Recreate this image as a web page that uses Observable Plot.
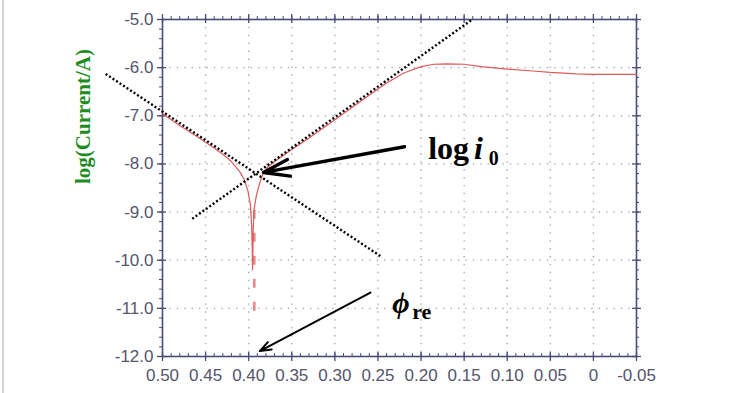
<!DOCTYPE html>
<html>
<head>
<meta charset="utf-8">
<script src="https://cdn.jsdelivr.net/npm/d3@7"></script>
<script src="https://cdn.jsdelivr.net/npm/@observablehq/plot@0.6"></script>
<style>
  html, body { margin: 0; padding: 0; background: #fff; }
  #wrap { position: relative; width: 755px; height: 393px; overflow: hidden; }
  #edge { position: absolute; left: 2px; top: 0; width: 2px; height: 393px; background: #d4d4d4; }
</style>
</head>
<body>
<div id="wrap"><div id="edge"></div></div>
<script>
// ---- data ----
const potential = [0.50, 0.48, 0.46, 0.44, 0.43, 0.42, 0.41, 0.405, 0.401, 0.398, 0.3965, 0.3958, 0.3955,
  0.3948, 0.3938, 0.391, 0.387, 0.383, 0.378, 0.37, 0.35, 0.33, 0.30, 0.27, 0.24, 0.22, 0.20, 0.185,
  0.17, 0.15, 0.13, 0.10, 0.07, 0.05, 0.02, 0.0, -0.05];
const logCurrent = [-6.96, -7.20, -7.43, -7.67, -7.80, -7.95, -8.17, -8.33, -8.55, -8.85, -9.3, -9.8, -10.2,
  -9.4, -8.95, -8.65, -8.38, -8.18, -8.07, -7.95, -7.70, -7.46, -7.08, -6.70, -6.32, -6.11, -5.98, -5.93,
  -5.92, -5.93, -5.98, -6.03, -6.07, -6.10, -6.13, -6.14, -6.14];
const tailPotential = [0.3935, 0.3935];
const tailLog = [-8.95, -11.15];

const tafelCathodicX = [0.566, 0.245];
const tafelCathodicY = [-6.13, -9.94];
const tafelAnodicX = [0.4655, 0.1406];
const tafelAnodicY = [-9.14, -5.0];

const arrowI0 = {x1: 0.2192, y1: -7.643, x2: 0.3828, y2: -8.177};
const arrowPhi = {x1: 0.2587, y1: -10.674, x2: 0.3871, y2: -11.887};

const xTicks = [0.50, 0.45, 0.40, 0.35, 0.30, 0.25, 0.20, 0.15, 0.10, 0.05, 0, -0.05];
const xTickLabels = ["0.50", "0.45", "0.40", "0.35", "0.30", "0.25", "0.20", "0.15", "0.10", "0.05", "0", "-0.05"];
const yTicks = [-5, -6, -7, -8, -9, -10, -11, -12];
const yTickLabels = ["-5.0", "-6.0", "-7.0", "-8.0", "-9.0", "-10.0", "-11.0", "-12.0"];
const xGrid = [0.45, 0.40, 0.35, 0.30, 0.25, 0.20, 0.15, 0.10, 0.05, 0];
const yGrid = [-6, -7, -8, -9, -10, -11];
const xMinor = d3.range(0, 56).map(i => +(0.5 - i * 0.01).toFixed(2));
const yMinor = d3.range(0, 36).map(i => +(-5 - i * 0.2).toFixed(1));

const yLabel = "log(Current/A)";
const labelLog = {t: "log", x: 0.1917, y: -7.892};
const labelI = {t: "i", x: 0.1385, y: -7.892};
const labelSub0 = {t: "0", x: 0.1215, y: -8.03};
const labelPhi = {t: "ϕ", x: 0.2335, y: -11.10};
const labelRe = {t: "re", x: 0.2103, y: -11.228};

// ---- chart ----
const W = 755, H = 393, mL = 162, mR = 119, mT = 19, mB = 37;
const pW = W - mL - mR, pH = H - mT - mB;
const axisColor = "#4a4a78";
const tickText = "#55556e";

const pts = potential.map((x, i) => ({x, y: logCurrent[i]}));
const tail = tailPotential.map((x, i) => ({x, y: tailLog[i]}));
const cath = tafelCathodicX.map((x, i) => ({x, y: tafelCathodicY[i]}));
const anod = tafelAnodicX.map((x, i) => ({x, y: tafelAnodicY[i]}));
const xFmt = new Map(xTicks.map((d, i) => [d, xTickLabels[i]]));
const yFmt = new Map(yTicks.map((d, i) => [d, yTickLabels[i]]));

const serif = "'Liberation Serif', 'Times New Roman', serif";
const narrow = "'Liberation Sans Narrow', 'Arial Narrow', 'Liberation Sans', Arial, sans-serif";

const chart = Plot.plot({
  width: W, height: H,
  marginLeft: mL, marginRight: mR, marginTop: mT, marginBottom: mB,
  x: {domain: [0.5, -0.05]},
  y: {domain: [-12, -5]},
  style: {background: "transparent", fontFamily: narrow},
  marks: [
    Plot.gridX(xGrid, {stroke: "#9a9aa0", strokeOpacity: 0.9, strokeWidth: 1.3, strokeDasharray: "1.4,6.5"}),
    Plot.gridY(yGrid, {stroke: "#9a9aa0", strokeOpacity: 0.9, strokeWidth: 1.3, strokeDasharray: "1.4,6"}),
    // minor ticks
    Plot.tickX(xMinor, {x: d => d, insetTop: pH - 3, stroke: axisColor}),
    Plot.tickX(xMinor, {x: d => d, insetTop: -3, insetBottom: pH, stroke: axisColor}),
    Plot.tickY(yMinor, {y: d => d, insetLeft: -3, insetRight: pW, stroke: axisColor}),
    Plot.tickY(yMinor, {y: d => d, insetLeft: pW, insetRight: -3, stroke: axisColor}),
    // major ticks
    Plot.tickX(xTicks, {x: d => d, insetTop: pH - 4, insetBottom: -5, stroke: axisColor, strokeWidth: 1.3}),
    Plot.tickX(xTicks, {x: d => d, insetTop: -5, insetBottom: pH - 4, stroke: axisColor, strokeWidth: 1.3}),
    Plot.tickY(yTicks, {y: d => d, insetLeft: -5, insetRight: pW - 4, stroke: axisColor, strokeWidth: 1.3}),
    Plot.tickY(yTicks, {y: d => d, insetLeft: pW - 4, insetRight: -5, stroke: axisColor, strokeWidth: 1.3}),
    Plot.frame({stroke: axisColor, strokeWidth: 1.6}),
    Plot.axisX(xTicks, {tickSize: 0, tickPadding: 12, tickFormat: d => xFmt.get(d), fontSize: 17, fill: tickText, label: null}),
    Plot.axisY(yTicks, {tickSize: 0, tickPadding: 9, tickFormat: d => yFmt.get(d), fontSize: 17, fill: tickText, label: null}),
    // curve
    Plot.line(tail, {x: "x", y: "y", stroke: "#e58a8a", strokeWidth: 2.6, strokeDasharray: "9,14", strokeLinecap: "butt"}),
    Plot.line(pts, {x: "x", y: "y", stroke: "#dd5a5a", strokeWidth: 1.2}),
    // Tafel lines
    Plot.line(cath, {x: "x", y: "y", stroke: "#000", strokeWidth: 2.4, strokeDasharray: "2,2.2", strokeLinecap: "butt"}),
    Plot.line(anod, {x: "x", y: "y", stroke: "#000", strokeWidth: 2.4, strokeDasharray: "2,2.2", strokeLinecap: "butt"}),
    // arrows
    Plot.arrow([arrowI0], {x1: "x1", y1: "y1", x2: "x2", y2: "y2", stroke: "#000", strokeWidth: 3.4, headLength: 12, headAngle: 36}),
    Plot.arrow([arrowPhi], {x1: "x1", y1: "y1", x2: "x2", y2: "y2", stroke: "#000", strokeWidth: 2, headLength: 9, headAngle: 40}),
    // annotations
    Plot.text([labelLog], {x: "x", y: "y", text: "t", textAnchor: "start", lineAnchor: "bottom", fontSize: 32, fontWeight: "bold", fontFamily: serif, fill: "#000"}),
    Plot.text([labelI], {x: "x", y: "y", text: "t", textAnchor: "start", lineAnchor: "bottom", fontSize: 32, fontWeight: "bold", fontStyle: "italic", fontFamily: serif, fill: "#000"}),
    Plot.text([labelSub0], {x: "x", y: "y", text: "t", textAnchor: "start", lineAnchor: "bottom", fontSize: 20, fontWeight: "bold", fontFamily: serif, fill: "#000"}),
    Plot.text([labelPhi], {x: "x", y: "y", text: "t", textAnchor: "start", lineAnchor: "bottom", fontSize: 30, fontWeight: "bold", fontStyle: "italic", fontFamily: serif, fill: "#000"}),
    Plot.text([labelRe], {x: "x", y: "y", text: "t", textAnchor: "start", lineAnchor: "bottom", fontSize: 22, fontWeight: "bold", fontFamily: serif, fill: "#000"}),
    // y label
    Plot.text([yLabel], {text: d => d, frameAnchor: "left", dx: -79, dy: -4, rotate: -90, fontSize: 21, fontWeight: "bold", fontFamily: serif, fill: "#1e8c1e"})
  ]
});
document.getElementById("wrap").appendChild(chart);
</script>
</body>
</html>
